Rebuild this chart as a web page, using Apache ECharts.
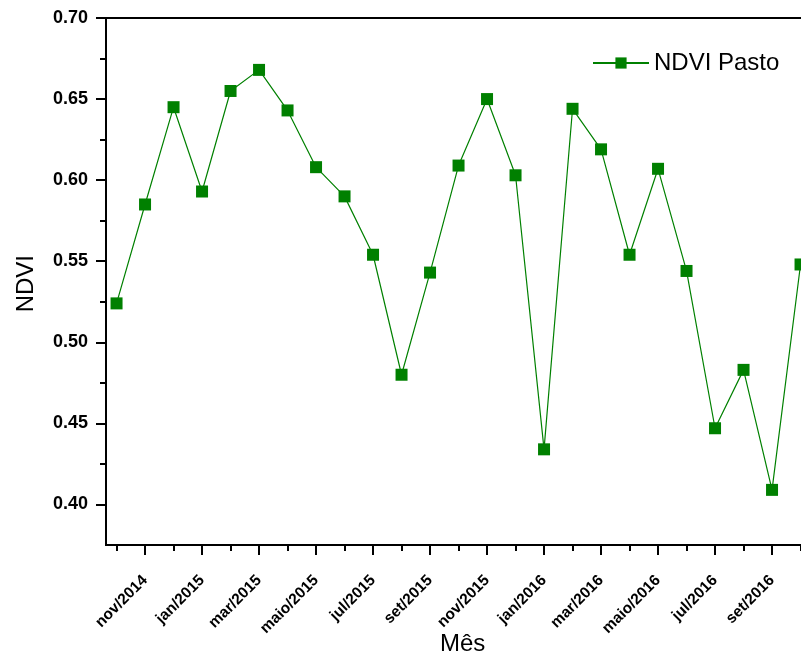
<!DOCTYPE html>
<html>
<head>
<meta charset="utf-8">
<script src="https://cdn.jsdelivr.net/npm/echarts@6/dist/echarts.min.js"></script>
<style>
  html, body { margin: 0; padding: 0; background: #fff; }
  #main { width: 801px; height: 657px; }
</style>
</head>
<body>
<div id="main"></div>
<script>
// meses da serie (out/2014 .. out/2016)
var months = ['out/2014', 'nov/2014', 'dez/2014', 'jan/2015', 'fev/2015', 'mar/2015',
    'abr/2015', 'maio/2015', 'jun/2015', 'jul/2015', 'ago/2015', 'set/2015',
    'out/2015', 'nov/2015', 'dez/2015', 'jan/2016', 'fev/2016', 'mar/2016',
    'abr/2016', 'maio/2016', 'jun/2016', 'jul/2016', 'ago/2016', 'set/2016', 'out/2016'];

var ndviPasto = [0.524, 0.585, 0.645, 0.593, 0.655, 0.668, 0.643, 0.608, 0.590, 0.554,
    0.480, 0.543, 0.609, 0.650, 0.603, 0.434, 0.644, 0.619, 0.554, 0.607,
    0.544, 0.447, 0.483, 0.409, 0.548];

// posicoes dos ticks (indice do mes)
var xMajorTicks = [1, 3, 5, 7, 9, 11, 13, 15, 17, 19, 21, 23, 25];
var xMinorTicks = [0, 2, 4, 6, 8, 10, 12, 14, 16, 18, 20, 22, 24];
var yMajorTicks = [0.40, 0.45, 0.50, 0.55, 0.60, 0.65, 0.70];
var yMinorTicks = [0.425, 0.475, 0.525, 0.575, 0.625, 0.675];

var myChart = echarts.init(document.getElementById('main'));

var xMin = -0.37, xMax = 25.42;
var yMin = 0.375, yMax = 0.70;

var option = {
    animation: false,
    grid: {
        left: 106,
        top: 18,
        width: 735,
        height: 527,
        outerBoundsMode: 'none',
        containLabel: false,
        show: true,
        borderColor: '#000',
        borderWidth: 2
    },
    legend: {
        left: 587,
        top: 46,
        itemWidth: 56,
        itemHeight: 14,
        itemGap: 8,
        textStyle: { fontFamily: 'Liberation Sans, Arial', fontSize: 24, color: '#000' },
        data: ['NDVI Pasto']
    },
    xAxis: [{
        type: 'value',
        min: xMin,
        max: xMax,
        position: 'bottom',
        axisLine: { show: true, onZero: false, lineStyle: { color: '#000', width: 2 } },
        axisTick: { show: true, inside: false, length: 10, customValues: xMajorTicks,
            lineStyle: { color: '#000', width: 2 } },
        axisLabel: {
            customValues: xMajorTicks,
            rotate: 45,
            margin: 33,
            fontFamily: 'Liberation Sans, Arial',
            fontWeight: 'bold',
            fontSize: 15.5,
            color: '#000',
            formatter: function (v) { return months[Math.round(v)] || ''; }
        },
        splitLine: { show: false }
    }, {
        type: 'value',
        min: xMin,
        max: xMax,
        position: 'bottom',
        axisLine: { show: false, onZero: false },
        axisTick: { show: true, length: 6, customValues: xMinorTicks,
            lineStyle: { color: '#000', width: 2 } },
        axisLabel: { show: false },
        splitLine: { show: false }
    }],
    yAxis: [{
        type: 'value',
        min: yMin,
        max: yMax,
        position: 'left',
        axisLine: { show: true, onZero: false, lineStyle: { color: '#000', width: 2 } },
        axisTick: { show: true, length: 10, customValues: yMajorTicks,
            lineStyle: { color: '#000', width: 2 } },
        axisLabel: {
            customValues: yMajorTicks,
            margin: 18,
            fontFamily: 'Liberation Sans, Arial',
            fontWeight: 'bold',
            fontSize: 18,
            color: '#000',
            formatter: function (v) { return v.toFixed(2); }
        },
        splitLine: { show: false }
    }, {
        type: 'value',
        min: yMin,
        max: yMax,
        position: 'left',
        axisLine: { show: false, onZero: false },
        axisTick: { show: true, length: 6, customValues: yMinorTicks,
            lineStyle: { color: '#000', width: 2 } },
        axisLabel: { show: false },
        splitLine: { show: false }
    }],
    graphic: [{
        type: 'text',
        left: 14,
        top: 255,
        rotation: Math.PI / 2,
        style: { text: 'NDVI', font: '24px "Liberation Sans", Arial', fill: '#000' }
    }, {
        type: 'text',
        left: 440,
        top: 632,
        style: { text: 'Mês', font: '24px "Liberation Sans", Arial', fill: '#000' }
    }],
    series: [{
        name: 'NDVI Pasto',
        type: 'line',
        xAxisIndex: 0,
        yAxisIndex: 0,
        data: ndviPasto.map(function (v, i) { return [i, v]; }),
        symbol: 'rect',
        symbolSize: 12,
        showAllSymbol: true,
        lineStyle: { color: '#008000', width: 1.2 },
        itemStyle: { color: '#008000' }
    }]
};
myChart.setOption(option);
</script>
</body>
</html>
